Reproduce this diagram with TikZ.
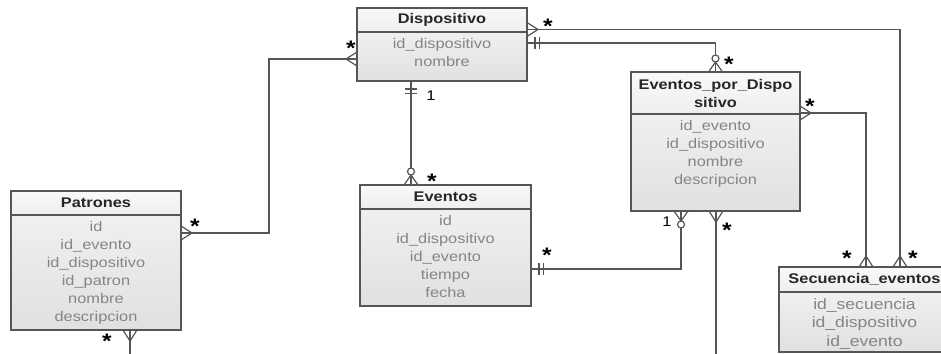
\documentclass[tikz,border=0pt]{standalone}
\usepackage{fontspec}
\setmainfont[FakeStretch=1.17]{Liberation Sans}
\usetikzlibrary{positioning,calc}
\definecolor{edge}{HTML}{555555}
\definecolor{fieldgray}{HTML}{858585}
\definecolor{titlegray}{HTML}{262626}

\begin{document}
\begin{tikzpicture}[x=1pt,y=-1pt,
  font=\fontsize{14}{18}\selectfont,
  thead/.style={draw=edge, line width=1.4pt, outer sep=0pt, inner sep=0pt, top color=gray!5, bottom color=gray!13, minimum height=24, align=center, font=\fontsize{14}{18}\selectfont\bfseries, text=titlegray},
  tbody/.style={draw=edge, line width=1.4pt, outer sep=0pt, inner sep=0pt, top color=gray!12, bottom color=gray!24},
  fields/.style={anchor=north, inner sep=0pt, align=center, text=fieldgray, yshift=-6pt},
  rel/.style={draw=edge, line width=1.2pt},
  mult/.style={font=\fontsize{21}{21}\selectfont\bfseries, inner sep=0pt},
  card/.style={font=\fontsize{14}{14}\selectfont, inner sep=0pt},
  crow/.pic={\draw[rel] (0,-7) -- (11,0) -- (0,7);},
  ocrow/.pic={\draw[rel] (0,-7) -- (10,0) -- (0,7); \draw[rel, fill=white] (13.5,0) circle[radius=3.5];},
  bars/.pic={\draw[rel] (8,-6) -- (8,6) (12.5,-6) -- (12.5,6);}]
\useasboundingbox (0,0) rectangle (941,353);
\clip (0,0) rectangle (941,353);
\fill[white] (0,0) rectangle (941,353);
% ----- tables
\node[thead, minimum width=170, anchor=north west] (disp) at (357,8) {Dispositivo};
\node[tbody, minimum width=170, minimum height=49, below=0pt of disp] (disp-b) {};
\node[fields] (disp-f) at (disp-b.north) {id\_dispositivo\\nombre};
\node[thead, minimum width=169, minimum height=42, anchor=north west] (epd) at (631,72) {Eventos\_por\_Dispo\\sitivo};
\node[tbody, minimum width=169, minimum height=97, below=0pt of epd] (epd-b) {};
\node[fields] (epd-f) at (epd-b.north) {id\_evento\\id\_dispositivo\\nombre\\descripcion};
\node[thead, minimum width=171, anchor=north west] (evt) at (360,185) {Eventos};
\node[tbody, minimum width=171, minimum height=97, below=0pt of evt] (evt-b) {};
\node[fields] (evt-f) at (evt-b.north) {id\\id\_dispositivo\\id\_evento\\tiempo\\fecha};
\node[thead, minimum width=170, anchor=north west] (pat) at (11,191) {Patrones};
\node[tbody, minimum width=170, minimum height=115, below=0pt of pat] (pat-b) {};
\node[fields] (pat-f) at (pat-b.north) {id\\id\_evento\\id\_dispositivo\\id\_patron\\nombre\\descripcion};
\node[thead, minimum width=171, minimum height=25, anchor=north west] (sec) at (779,267) {Secuencia\_eventos};
\node[tbody, minimum width=171, minimum height=60, below=0pt of sec] (sec-b) {};
\node[fields, font=\fontsize{15}{18.5}\selectfont] (sec-f) at (sec-b.north) {id\_secuencia\\id\_dispositivo\\id\_evento};
% ----- relations
\coordinate (epd-out) at (716,356);
\coordinate (pat-out) at (130,356);
\draw[rel] ([yshift=-9.5pt]disp.east) -| ([xshift=35.5pt]sec.north);
\draw[rel] ([yshift=-11pt]disp-b.north east) -| (epd.north);
\draw[rel] ([yshift=1pt]epd.south east) -| ([xshift=1.5pt]sec.north);
\draw[rel] ([xshift=-34.5pt]epd-b.south) |- ([yshift=-11.5pt]evt-b.east);
\draw[rel] (epd-b.south -| epd-out) -- (epd-out);
\draw[rel] ([xshift=-31pt]disp-b.south) -- ([xshift=-31pt]disp-b.south |- evt.north);
\draw[rel] ([yshift=-18pt]pat-b.north east) -| ($(pat-b.east)!.5!(disp-b.west)$) |- ([yshift=-27pt]disp-b.north west);
\draw[rel] (pat-b.south -| pat-out) -- (pat-out);
% ----- end symbols
\pic at ([yshift=-9.5pt]disp.east) {crow};
\pic[rotate=90] at ([xshift=35.5pt]sec.north) {crow};
\pic at ([yshift=-11pt]disp-b.north east) {bars};
\pic[rotate=90] at (epd.north) {ocrow};
\pic at ([yshift=1pt]epd.south east) {crow};
\pic[rotate=90] at ([xshift=1.5pt]sec.north) {crow};
\pic[rotate=-90] at ([xshift=-34.5pt]epd-b.south) {ocrow};
\pic at ([yshift=-11.5pt]evt-b.east) {bars};
\pic[rotate=-90] at (epd-b.south -| epd-out) {crow};
\pic[rotate=-90] at ([xshift=-31pt]disp-b.south) {bars};
\pic[rotate=90] at ([xshift=-31pt]disp-b.south |- evt.north) {ocrow};
\pic at ([yshift=-18pt]pat-b.north east) {crow};
\pic[rotate=180] at ([yshift=-27pt]disp-b.north west) {crow};
\pic[rotate=-90] at (pat-b.south -| pat-out) {crow};
% ----- multiplicities
\node[mult] (m-ds) at (548,26) {*};
\node[mult] (m-dp) at (351,48) {*};
\node[mult] (m-sd) at (913,258) {*};
\node[mult] (m-se) at (847,258) {*};
\node[mult] (m-ed) at (729,64) {*};
\node[mult] (m-es) at (810,106) {*};
\node[mult] (m-eo) at (727,230) {*};
\node[mult] (m-ev) at (432,181) {*};
\node[mult] (m-ee) at (547,255) {*};
\node[mult] (m-pd) at (195,226) {*};
\node[mult] (m-po) at (107,341) {*};
\node[card] (c-de) at (431,96) {1};
\node[card] (c-ee) at (667,222) {1};
\end{tikzpicture}
\end{document}
